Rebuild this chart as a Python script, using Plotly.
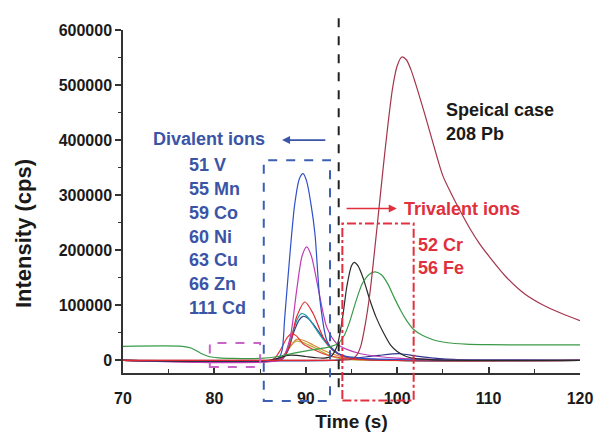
import plotly.graph_objects as go

# ---------------- data ----------------
pb_x = [70, 90, 94, 95, 95.5, 96, 96.5, 97, 97.5, 98, 98.5, 99, 99.5, 100, 100.5, 101, 101.5, 102, 103, 104, 105, 106, 107, 108, 109, 110, 112, 114, 116, 118, 120]
pb_y = [0, 0, 500, 2000, 8000, 25000, 65000, 120000, 195000, 275000, 355000, 430000, 495000, 535000, 551000, 546000, 528000, 503000, 448000, 390000, 335000, 300000, 268000, 238000, 212000, 190000, 150000, 120000, 100000, 85000, 72000]

green_x = [70, 76.5, 77.5, 78.5, 79.5, 80.5, 82, 85, 87, 89, 91, 92.5, 93.5, 94.2, 94.8, 95.5, 96.2, 97, 97.6, 98.3, 99, 99.7, 100.4, 101, 101.8, 102.8, 104, 105.5, 107.5, 110, 115, 120]
green_y = [25500, 25500, 22000, 13000, 6500, 4500, 3500, 3500, 7000, 14000, 20000, 24000, 30000, 45000, 70000, 108000, 140000, 157000, 160500, 155000, 138000, 113000, 90000, 73000, 56000, 45000, 37000, 32000, 29500, 28500, 28000, 28000]

black_x = [70, 86, 87, 88, 89, 90, 91, 92, 92.8, 93.4, 94, 94.5, 95, 95.3, 95.7, 96.3, 97, 97.7, 98.5, 99.3, 100, 101, 102, 104, 120]
black_y = [0, 0, 4000, 9000, 9000, 7000, 5000, 4000, 8000, 25000, 75000, 135000, 172000, 178000, 172000, 148000, 110000, 78000, 50000, 27000, 16000, 7000, 3000, 1000, 0]

blue_x = [70, 86.5, 87, 87.4, 87.7, 88.3, 88.8, 89.3, 89.7, 90.1, 90.6, 91, 91.55, 92.3, 93, 94, 96, 100, 120]
blue_y = [0, 0, 3000, 18000, 79000, 200000, 285000, 330000, 339000, 325000, 280000, 230000, 109000, 36000, 18000, 9000, 4000, 1500, 0]

magenta_x = [70, 87, 87.6, 88.3, 89, 89.6, 90.1, 90.6, 91.4, 92.3, 93.4, 94.5, 96, 98, 100, 104, 120]
magenta_y = [0, 0, 8000, 42000, 127000, 190000, 206000, 190000, 127000, 60000, 30000, 20000, 12000, 7000, 4000, 1500, 0]

red_x = [70, 87, 87.6, 88.3, 89, 89.9, 90.8, 91.9, 93, 94, 96, 120]
red_y = [0, 0, 6000, 30000, 79000, 106000, 85000, 42000, 18000, 8000, 2000, 0]

red2_x = [70, 86, 86.6, 87.2, 88, 88.5, 89, 89.7, 90.8, 91.9, 93, 95, 120]
red2_y = [0, 0, 4000, 18000, 42000, 48500, 44000, 30000, 20000, 12000, 7000, 2000, 0]

teal_x = [70, 86.8, 87.4, 88, 88.7, 89.2, 89.55, 90, 90.6, 91.2, 91.9, 92.6, 93.5, 95, 120]
teal_y = [0, 0, 3000, 20000, 58000, 79000, 85000, 82000, 70000, 54500, 38000, 24000, 12000, 4000, 0]

navy_x = [70, 86.8, 87.4, 88, 88.7, 89.3, 89.7, 90.2, 90.8, 91.4, 92.1, 92.8, 93.6, 95, 120]
navy_y = [0, 0, 2000, 16000, 52000, 74000, 80000, 77000, 66000, 52000, 36000, 23000, 12000, 4000, 0]

olive_x = [70, 86.5, 87.3, 88, 88.6, 89, 89.6, 90.3, 91.2, 92.2, 93, 94, 96, 120]
olive_y = [0, 0, 4000, 18000, 31000, 35000, 33000, 28000, 21000, 12000, 6000, 2500, 500, 0]

orange_x = [70, 86.8, 87.5, 88.3, 89.0, 89.8, 90.8, 92, 93, 94.5, 97, 120]
orange_y = [0, 0, 6000, 25000, 38000, 36000, 28000, 18000, 11000, 5000, 1500, 0]

crfe_x = [70, 93, 94.5, 96, 98, 100.3, 102, 104, 107, 110, 120]
crfe_y = [0, 0, 2000, 5000, 9000, 12000, 8000, 4000, 1000, 0, 0]

x_ticks = [70, 80, 90, 100, 110, 120]
y_ticks = [0, 100000, 200000, 300000, 400000, 500000, 600000]
y_ticktext = [str(v) for v in y_ticks]

divalent_labels = ["51 V", "55 Mn", "59 Co", "60 Ni", "63 Cu", "66 Zn", "111 Cd"]
divalent_label_y = [354500, 310900, 267300, 223600, 181800, 138200, 94500]
trivalent_labels = ["52 Cr", "56 Fe"]
trivalent_label_y = [209000, 167300]

# ---------------- styling ----------------
YMIN, YMAX = -23000, 600000
FONT = "Liberation Sans, Arial, sans-serif"
BLUE_TXT = "#3a54a6"
RED_TXT = "#e0303c"


def yp(v):
    return (v - YMIN) / (YMAX - YMIN)


series = [
    (crfe_x, crfe_y, "#2e3390"),
    (olive_x, olive_y, "#b5b233"),
    (orange_x, orange_y, "#d98a3a"),
    (navy_x, navy_y, "#2f3d8e"),
    (teal_x, teal_y, "#1f9ea6"),
    (red2_x, red2_y, "#e23a3a"),
    (red_x, red_y, "#e0282e"),
    (magenta_x, magenta_y, "#c03cb4"),
    (blue_x, blue_y, "#2f50c8"),
    (black_x, black_y, "#2a2a2a"),
    (green_x, green_y, "#3a9a48"),
    (pb_x, pb_y, "#a3354b"),
]

fig = go.Figure()
for xs, ys, col in series:
    fig.add_trace(go.Scatter(x=xs, y=ys, mode="lines",
                             line=dict(color=col, width=1.2, shape="spline", smoothing=0.8),
                             showlegend=False, hoverinfo="skip"))
# red flat baseline on top
fig.add_trace(go.Scatter(x=[70, 93], y=[0, 0], mode="lines",
                         line=dict(color="#e0282e", width=1.4), showlegend=False))

shapes = [
    dict(type="rect", xref="x", yref="paper", x0=79.5, x1=85.0, y0=yp(-12200), y1=yp(31500),
         line=dict(color="#c866c8", width=2, dash="dash")),
    dict(type="rect", xref="x", yref="paper", x0=85.4, x1=92.65, y0=yp(-74000), y1=yp(363600),
         line=dict(color="#3c5fb4", width=2, dash="dash")),
    dict(type="rect", xref="x", yref="paper", x0=94.0, x1=101.8, y0=yp(-73000), y1=yp(248500),
         line=dict(color="#e23040", width=2, dash="dashdot")),
    dict(type="line", xref="x", yref="paper", x0=93.6, x1=93.6, y0=yp(-49000), y1=yp(631000),
         line=dict(color="#222222", width=2, dash="dash")),
]

annotations = []
annotations.append(dict(x=73.1, y=401800, xref="x", yref="y", text="Divalent ions",
                        showarrow=False, xanchor="left", yanchor="middle",
                        font=dict(family=FONT, size=18, color=BLUE_TXT, weight="bold")))
annotations.append(dict(x=87.4, y=400000, ax=92.3, ay=400000, xref="x", yref="y", axref="x", ayref="y",
                        text="", showarrow=True, arrowhead=2, arrowsize=1, arrowwidth=1.6,
                        arrowcolor=BLUE_TXT))
for lab, yv in zip(divalent_labels, divalent_label_y):
    annotations.append(dict(x=77.0, y=yv, xref="x", yref="y", text=lab, showarrow=False,
                            xanchor="left", yanchor="middle",
                            font=dict(family=FONT, size=18, color=BLUE_TXT, weight="bold")))
annotations.append(dict(x=100.5, y=274500, xref="x", yref="y", text="Trivalent ions",
                        showarrow=False, xanchor="left", yanchor="middle",
                        font=dict(family=FONT, size=18, color=RED_TXT, weight="bold")))
annotations.append(dict(x=99.95, y=275800, ax=94.3, ay=275800, xref="x", yref="y", axref="x", ayref="y",
                        text="", showarrow=True, arrowhead=2, arrowsize=1, arrowwidth=1.6,
                        arrowcolor=RED_TXT))
for lab, yv in zip(trivalent_labels, trivalent_label_y):
    annotations.append(dict(x=102.1, y=yv, xref="x", yref="y", text=lab, showarrow=False,
                            xanchor="left", yanchor="middle",
                            font=dict(family=FONT, size=18, color=RED_TXT, weight="bold")))
for lab, yv in zip(["Speical case", "208 Pb"], [454500, 410900]):
    annotations.append(dict(x=105.1, y=yv, xref="x", yref="y", text=lab, showarrow=False,
                            xanchor="left", yanchor="middle",
                            font=dict(family=FONT, size=18, color="#1a1a1a", weight="bold")))
# y-axis title (placed as rotated text, slightly below the plot centre as in the reference)
annotations.append(dict(x=-0.219, y=231000, xref="paper", yref="y", text="Intensity (cps)",
                        showarrow=False, textangle=-90, xanchor="center", yanchor="middle",
                        font=dict(family=FONT, size=22, color="#1a1a1a", weight="bold")))

fig.update_layout(
    width=595, height=432,
    margin=dict(l=123, r=15, t=30, b=59),
    paper_bgcolor="white", plot_bgcolor="white",
    font=dict(family=FONT, color="#1a1a1a"),
    shapes=shapes, annotations=annotations,
    showlegend=False,
)
fig.update_xaxes(
    range=[70, 120], tickvals=x_ticks, ticktext=[str(v) for v in x_ticks],
    ticks="inside", ticklen=6, tickwidth=1.5, tickcolor="#333",
    minor=dict(dtick=5, tick0=70, ticks="inside", ticklen=4, tickwidth=1.2, tickcolor="#333", showgrid=False),
    showline=True, linecolor="#333", linewidth=1.5, showgrid=False, zeroline=False,
    tickfont=dict(family=FONT, size=16, color="#1a1a1a", weight="bold"),
    ticklabelstandoff=10, automargin=False,
    title=dict(text="Time (s)", font=dict(family=FONT, size=19, color="#1a1a1a", weight="bold"), standoff=14),
)
fig.update_yaxes(
    range=[YMIN, YMAX], tickvals=y_ticks, ticktext=y_ticktext,
    ticks="outside", ticklen=6, tickwidth=1.5, tickcolor="#333",
    minor=dict(dtick=50000, tick0=0, ticks="outside", ticklen=3, tickwidth=1.2, tickcolor="#333", showgrid=False),
    showline=True, linecolor="#333", linewidth=1.5, showgrid=False, zeroline=False,
    tickfont=dict(family=FONT, size=16, color="#1a1a1a", weight="bold"),
    automargin=False,
)

fig.write_html("out.html")
